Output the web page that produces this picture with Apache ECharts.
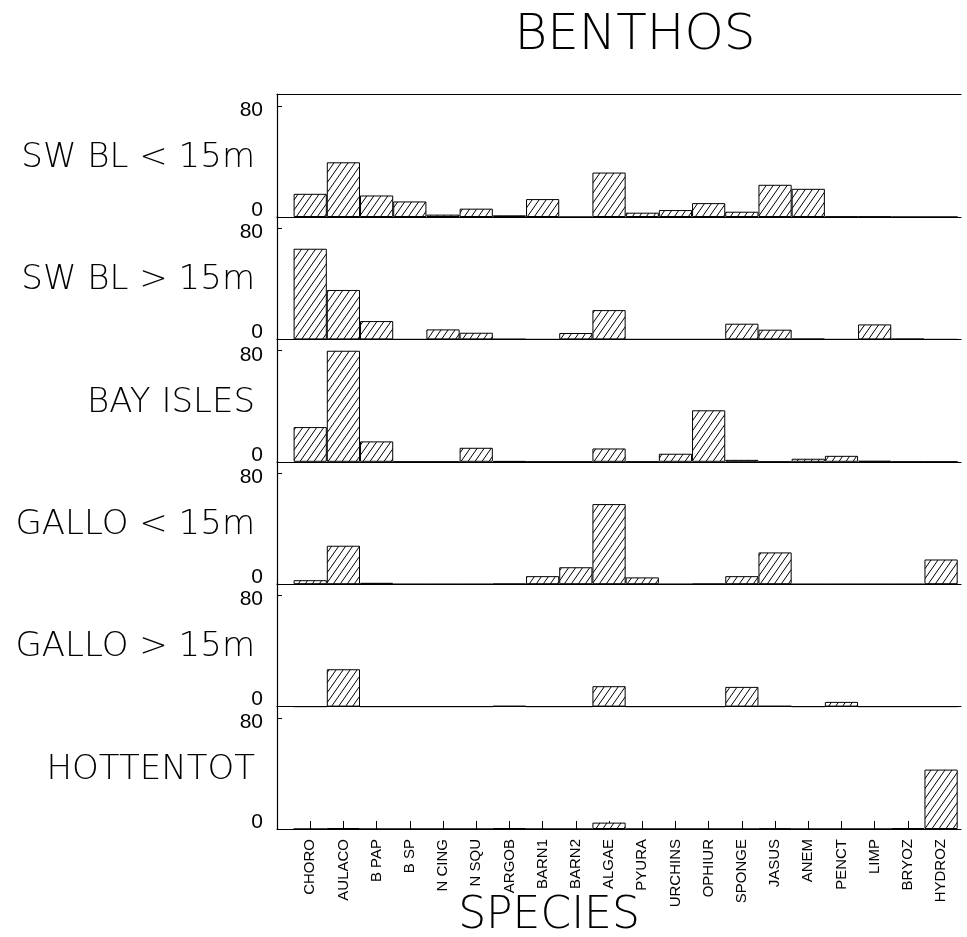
<!DOCTYPE html>
<html>
<head>
<meta charset="utf-8">
<script src="https://cdn.jsdelivr.net/npm/echarts@6/dist/echarts.min.js"></script>
<style>html,body{margin:0;padding:0;background:#fff}#c{width:967px;height:937px}</style>
</head>
<body>
<div id="c"></div>
<script>
// ---- data ----
const categories = ['CHORO','AULACO','B PAP','B SP','N CING','N SQU','ARGOB','BARN1','BARN2','ALGAE','PYURA','URCHINS','OPHIUR','SPONGE','JASUS','ANEM','PENCT','LIMP','BRYOZ','HYDROZ'];
const panelNames = ['SW BL < 15m','SW BL > 15m','BAY ISLES','GALLO < 15m','GALLO > 15m','HOTTENTOT'];
const swblShallow = [16.7, 39.4, 15.5, 11.2, 1.7, 6, 1.2, 12.9, 0, 32, 3.1, 5, 10, 3.8, 23.2, 20.3, 0.3, 0.3, 0, 0];
const swblDeep    = [65.3, 35.6, 13.2, 0, 7.2, 4.8, 0.3, 0, 4.6, 21.1, 0, 0, 0, 11.3, 7, 0.5, 0, 10.8, 0.5, 0];
const bayIsles    = [25, 80, 14.7, 0, 0, 10.1, 0.5, 0, 0, 9.6, 0, 5.8, 37.1, 1.4, 0, 2.2, 4.3, 0.7, 0, 0];
const galloShallow= [2.9, 27.7, 1.0, 0, 0, 0, 0.3, 5.8, 12.2, 57.7, 4.9, 0, 0.3, 5.8, 22.9, 0, 0, 0, 0, 17.8];
const galloDeep   = [0, 26.9, 0, 0, 0, 0, 0.5, 0, 0, 14.7, 0, 0, 0, 14.2, 0.5, 0, 3.4, 0, 0, 0];
const hottentot   = [0, 0.7, 0, 0, 0, 0, 0.7, 0, 0, 4.6, 0, 0, 0, 0, 0.3, 0, 0, 0, 0.5, 42.8];
const yTicks = [0, 80];
const panels = [swblShallow, swblDeep, bayIsles, galloShallow, galloDeep, hottentot];

// ---- layout ----
const LIGHT = '"DejaVu Sans", sans-serif';
const PLAIN = '"Liberation Sans", sans-serif';
const gridLeft = 277, gridWidth = 684, firstBase = 217, step = 122.4, panelH = 123;
const xMax = 20.6, yMax = 88.6;
const barW = gridWidth / xMax;

// hatch pattern
const pc = document.createElement('canvas');
const pw = 7, ph = 10;
pc.width = pw; pc.height = ph;
const px = pc.getContext('2d');
px.fillStyle = '#fff'; px.fillRect(0,0,pw,ph);
px.strokeStyle = '#000'; px.lineWidth = 1;
px.beginPath();
for (const dx of [-pw,0,pw]) for (const dy of [-ph,0,ph]) { px.moveTo(dx, ph+dy); px.lineTo(pw+dx, dy); }
px.stroke();
const hatch = {image: pc, repeat: 'repeat'};

const yLabelRich = {
  t: {fontSize: 21, fontFamily: PLAIN, color: '#000', padding: [8, 0, 0, 0]},
  b: {fontSize: 21, fontFamily: PLAIN, color: '#000', padding: [0, 0, 14, 0]}
};

const grids = [], xAxes = [], yAxes = [], series = [], graphics = [];
const catTicks = categories.map((c,k)=>k+1);
panels.forEach((vals, i) => {
  const base = firstBase + step * i;
  grids.push({left: gridLeft, width: gridWidth, top: base - panelH, height: panelH});
  const last = i === panels.length - 1;
  xAxes.push({
    type: 'value', gridIndex: i, min: 0, max: xMax, position: 'bottom',
    axisLine: {show: true, onZero: false, lineStyle: {color: '#000', width: 1.2}},
    splitLine: {show: false},
    axisTick: last ? {show: true, inside: true, length: 8, customValues: catTicks, lineStyle: {color: '#000'}} : {show: false},
    axisLabel: last ? {show: true, rotate: 90, customValues: catTicks, margin: 10, fontSize: 15, color: '#000',
      fontFamily: PLAIN,
      formatter: v => categories[Math.round(v) - 1] || ''} : {show: false}
  });
  yAxes.push({
    type: 'value', gridIndex: i, min: 0, max: yMax,
    axisLine: {show: true, lineStyle: {color: '#000', width: 1.2}},
    splitLine: {show: false},
    axisTick: {show: true, inside: true, length: 5, customValues: yTicks, lineStyle: {color: '#000'}},
    axisLabel: {show: true, customValues: yTicks, margin: 14, fontSize: 21, color: '#000', fontFamily: PLAIN,
      formatter: v => (v === 0 ? '{b|' : '{t|') + v + '}', rich: yLabelRich}
  });
  series.push({
    type: 'bar', xAxisIndex: i, yAxisIndex: i, barWidth: barW, silent: true, animation: false,
    data: vals.map((v,k) => [k+1, v]),
    itemStyle: {color: hatch, borderColor: '#000', borderWidth: 1}
  });
  graphics.push({type: 'text', x: 255, y: base - 59, style: {text: panelNames[i], fill: '#000',
    font: '200 34px ' + LIGHT, textAlign: 'right', textVerticalAlign: 'middle'}});
});
// top frame line of first panel
xAxes.push({type: 'value', gridIndex: 0, min: 0, max: xMax, position: 'top',
  axisLine: {show: true, onZero: false, lineStyle: {color: '#000', width: 1.2}},
  axisTick: {show: false}, axisLabel: {show: false}, splitLine: {show: false}});

graphics.push({type: 'text', x: 635, y: 36, style: {text: 'BENTHOS', fill: '#000', font: '200 50px ' + LIGHT, textAlign: 'center', textVerticalAlign: 'middle'}});
graphics.push({type: 'text', x: 549, y: 917, style: {text: 'SPECIES', fill: '#000', font: '200 44px ' + LIGHT, textAlign: 'center', textVerticalAlign: 'middle'}});

const chart = echarts.init(document.getElementById('c'), null, {renderer: 'canvas'});
chart.setOption({
  animation: false,
  backgroundColor: '#fff',
  grid: grids, xAxis: xAxes, yAxis: yAxes, series: series, graphic: graphics
});
</script>
</body>
</html>
